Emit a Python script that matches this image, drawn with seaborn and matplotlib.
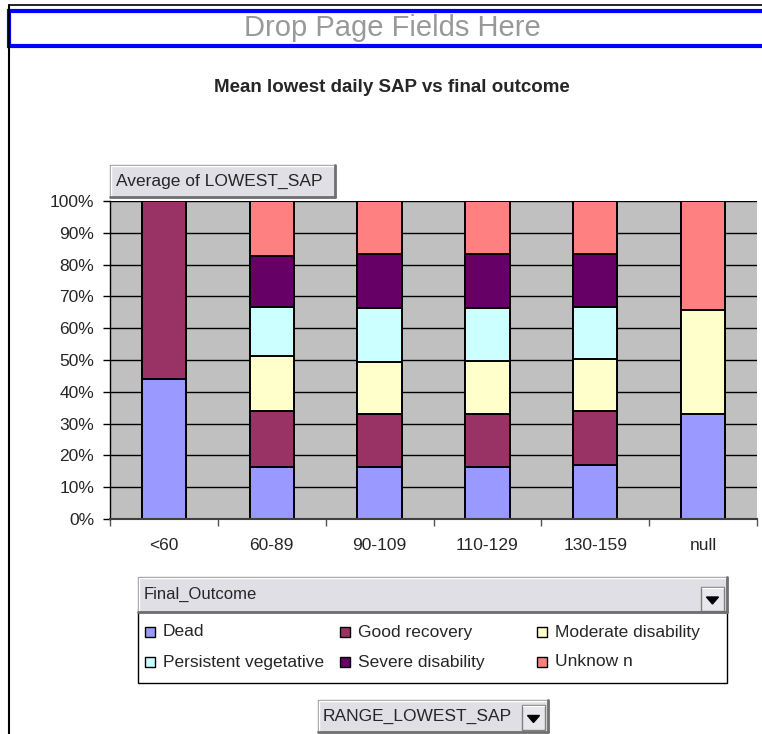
import numpy as np
import pandas as pd
import seaborn as sns
import matplotlib.pyplot as plt
from matplotlib.patches import Rectangle, Polygon
from matplotlib.lines import Line2D

# data: share of each outcome (100% stacked average of LOWEST_SAP)
categories = ["<60", "60-89", "90-109", "110-129", "130-159", "null"]
outcomes = ["Dead", "Good recovery", "Moderate disability",
            "Persistent vegetative", "Severe disability", "Unknown"]
legend_labels = ["Dead", "Good recovery", "Moderate disability",
                 "Persistent vegetative", "Severe disability", "Unknow n"]
colors = ["#9999FF", "#993366", "#FFFFCC", "#CCFFFF", "#660066", "#FF8080"]

dead = [44.0, 16.4, 16.4, 16.4, 17.0, 32.9]
good_recovery = [56.0, 17.6, 16.5, 16.5, 17.1, 0.0]
moderate = [0.0, 17.4, 16.5, 16.9, 16.2, 32.8]
persistent = [0.0, 15.4, 16.9, 16.5, 16.4, 0.0]
severe = [0.0, 15.9, 17.0, 17.0, 16.6, 0.0]
unknown = [0.0, 17.3, 16.7, 16.7, 16.7, 34.3]
y_ticks = list(range(0, 101, 10))

series = [dead, good_recovery, moderate, persistent, severe, unknown]

# long table, normalised to 100% and stacked
df = pd.DataFrame({o: s for o, s in zip(outcomes, series)}, index=categories)
df = df.div(df.sum(axis=1), axis=0) * 100
cum = df.cumsum(axis=1)

sns.set_style("white")
plt.rcParams["font.family"] = ["Liberation Sans", "DejaVu Sans"]

W, H = 762, 734
fig = plt.figure(figsize=(W / 100, H / 100), dpi=100)


def fx(x):
    return x / W


def fy(y):
    return 1 - y / H


def rect(x0, y0, x1, y1, **kw):
    fig.add_artist(Rectangle((fx(x0), fy(y1)), fx(x1) - fx(x0), fy(y0) - fy(y1),
                             transform=fig.transFigure, **kw))


def line(xs, ys, **kw):
    fig.add_artist(Line2D([fx(x) for x in xs], [fy(y) for y in ys],
                          transform=fig.transFigure, **kw))


def button(x0, y0, x1, y1):
    rect(x0, y0, x1, y1, facecolor="#DFDFE5", edgecolor="#9A9A9A", lw=1)
    line([x0 + 1, x1 - 1], [y0 + 1, y0 + 1], color="white", lw=1)
    line([x0 + 1, x0 + 1], [y0 + 1, y1 - 1], color="white", lw=1)
    line([x0, x1], [y1, y1], color="#707070", lw=2)
    line([x1, x1], [y0, y1], color="#707070", lw=2)


def arrow_btn(x0, y0, x1, y1):
    rect(x0, y0, x1, y1, facecolor="#E8E8EC", edgecolor="#808080", lw=1)
    line([x0 + 1, x1 - 1], [y0 + 1, y0 + 1], color="white", lw=1)
    cx, cy = (x0 + x1) / 2, (y0 + y1) / 2 + 1
    fig.add_artist(Polygon([(fx(cx - 6), fy(cy - 3)), (fx(cx + 6), fy(cy - 3)),
                            (fx(cx), fy(cy + 4))], closed=True,
                           transform=fig.transFigure, color="black"))


# outer chart frame and page field drop zone
line([9, W], [5, 5], color="black", lw=1.2)
line([9, 9], [5, H], color="black", lw=1.5)
rect(9, 11, W + 10, 46, facecolor="white", edgecolor="#0000FF", lw=3)
fig.text(fx(392), fy(28), "Drop Page Fields Here", ha="center", va="center",
         fontsize=21, color="#999999")

fig.text(fx(392), fy(87), "Mean lowest daily SAP vs final outcome", ha="center",
         va="center", fontsize=13.5, fontweight="bold")

# plot area
ax = fig.add_axes([fx(110), fy(519), (757 - 110) / W, 318 / H])
ax.set_facecolor("#C0C0C0")
ax.set_axisbelow(True)
ax.yaxis.grid(True, color="black", lw=1)

for i in reversed(range(len(outcomes))):
    d = pd.DataFrame({"range": categories, "value": cum[outcomes[i]].values})
    sns.barplot(data=d, x="range", y="value", order=categories, color=colors[i],
                saturation=1, width=0.41, edgecolor="black", linewidth=1.4,
                errorbar=None, ax=ax)

ax.set_xlim(-0.5, len(categories) - 0.5)
ax.set_ylim(0, 100)
ax.set_yticks(y_ticks)
ax.set_yticklabels([f"{v}%" for v in y_ticks])
ax.set_xlabel("")
ax.set_ylabel("")
ax.set_xticks(np.arange(-0.5, len(categories), 1), minor=True)
ax.tick_params(axis="y", direction="out", length=5, width=1, color="black",
               pad=6.5, labelsize=12.5, left=True)
ax.tick_params(axis="x", which="major", length=0, pad=14, labelsize=12.5)
ax.tick_params(axis="x", which="minor", direction="out", length=5, width=1,
               color="#555555", bottom=True)
for s in ["top", "right"]:
    ax.spines[s].set_visible(False)
ax.spines["left"].set_color("black")
ax.spines["left"].set_linewidth(1)
ax.spines["bottom"].set_color("#404040")
ax.spines["bottom"].set_linewidth(1.5)

# data field button
button(110, 165, 335, 197)
fig.text(fx(116), fy(181), "Average of LOWEST_SAP", ha="left", va="center",
         fontsize=12.5)

# series field and legend
button(138, 577, 727, 612)
fig.text(fx(144), fy(594), "Final_Outcome", ha="left", va="center", fontsize=12)
arrow_btn(701, 587, 724, 611)
rect(138, 612, 727, 683, facecolor="white", edgecolor="black", lw=1)

col_x = [145, 340, 537]
row_y = [632, 662]
for k, (lab, c) in enumerate(zip(legend_labels, colors)):
    x = col_x[k % 3]
    y = row_y[k // 3]
    rect(x, y - 5, x + 10, y + 5, facecolor=c, edgecolor="black", lw=1)
    fig.text(fx(x + 18), fy(y), lab, ha="left", va="center", fontsize=12.5)

# category field button
button(318, 700, 548, 732)
fig.text(fx(323), fy(716), "RANGE_LOWEST_SAP", ha="left", va="center",
         fontsize=12.5)
arrow_btn(522, 705, 545, 730)

fig.savefig("out.png", dpi=100)
